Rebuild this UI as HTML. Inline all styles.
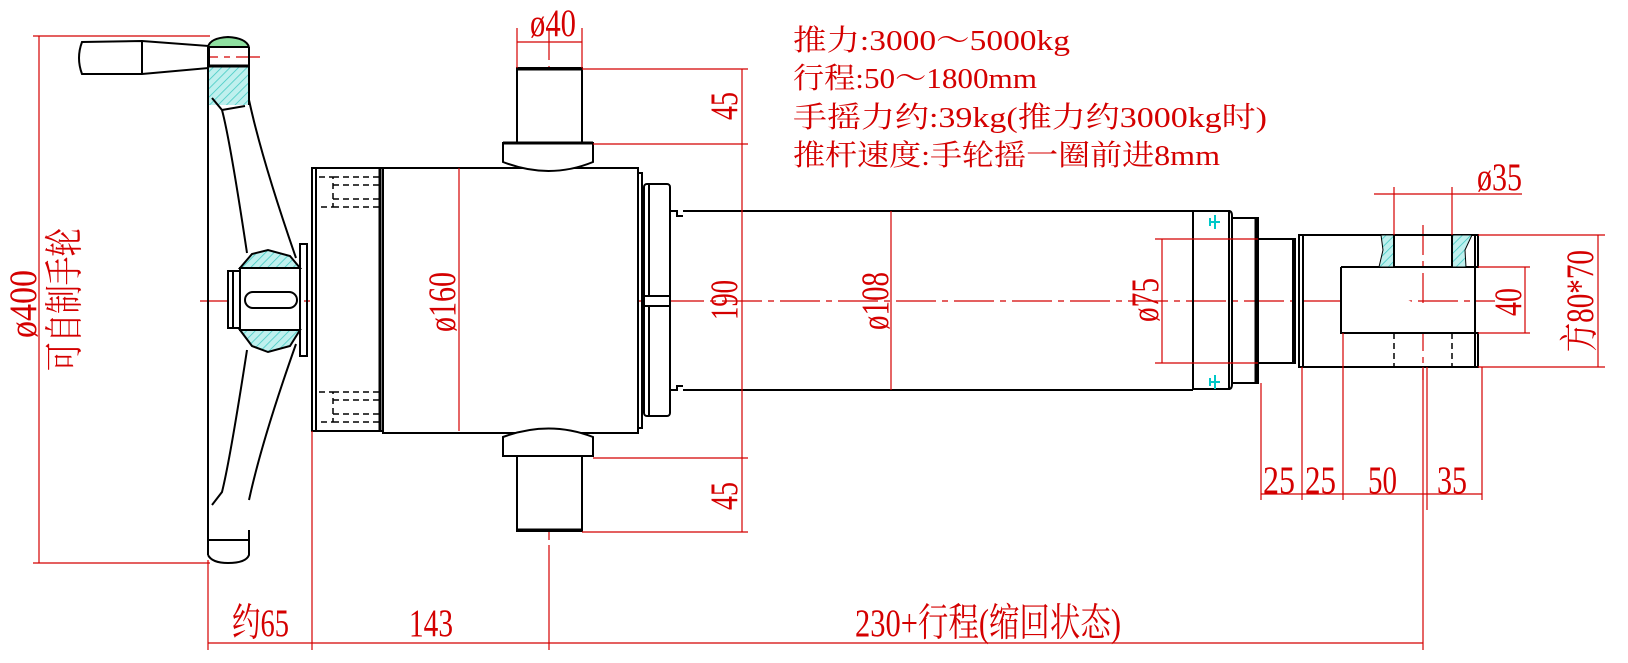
<!DOCTYPE html>
<html><head><meta charset="utf-8"><style>
html,body{margin:0;padding:0;background:#fff;width:1628px;height:663px;overflow:hidden}
svg{display:block}
text{font-family:"Liberation Serif","Noto Serif CJK SC",serif;fill:#d40000}
</style></head><body>
<svg width="1628" height="663" viewBox="0 0 1628 663" xmlns="http://www.w3.org/2000/svg">
<defs>
<pattern id="h" width="6" height="6" patternUnits="userSpaceOnUse" patternTransform="rotate(45)">
<rect width="6" height="6" fill="#bff0ee"/><line x1="0" y1="0" x2="0" y2="6" stroke="#3cc8c0" stroke-width="1.5"/></pattern>
</defs>
<g stroke="#d40000" stroke-width="1.2" fill="none">
<line x1="200" y1="301" x2="1495" y2="301" stroke-dasharray="40,6,6,6"/>
<line x1="140" y1="57" x2="260" y2="57" stroke-dasharray="30,6,6,6"/>
<line x1="549" y1="30" x2="549" y2="545" stroke-dasharray="30,6,6,6"/>
<line x1="1423" y1="225" x2="1423" y2="380" stroke-dasharray="30,6,6,6"/>
</g>
<g stroke="#000" stroke-width="2" fill="none">
<path d="M82,42 L142,41 L209,46 L209,68 L142,74 L82,74 Q76,58 82,42 Z" fill="#fff"/>
<line x1="142" y1="41" x2="142" y2="74"/>
<path d="M208,47 Q210,38 228,37 Q246,38 249,47" fill="#8fe0a0"/>
<rect x="208" y="67" width="41" height="38" fill="url(#h)" stroke="none"/>
<line x1="208" y1="47" x2="208" y2="555"/>
<line x1="249" y1="47" x2="249" y2="105"/>
<line x1="208" y1="47" x2="249" y2="47"/>
<line x1="208" y1="66" x2="249" y2="66" stroke-width="3"/>
<path d="M208,555 Q212,563 228,563 Q246,563 249,555 L249,530"/>
<line x1="208" y1="540" x2="249" y2="540"/>
<path d="M212,98 L222,110 Q230,140 247,253"/>
<path d="M249,100 Q262,160 296,258"/>
<path d="M222,110 L245,106"/>
<path d="M212,505 L222,492 Q230,460 247,350"/>
<path d="M249,500 Q262,440 296,344"/>
<path d="M240,268 L252,254 L268,250 L290,256 L300,268 Z" fill="url(#h)"/>
<path d="M240,330 L252,346 L268,352 L290,346 L300,330 Z" fill="url(#h)"/>
<rect x="240" y="268" width="60" height="62" fill="#fff"/>
<rect x="228" y="271" width="12" height="57" fill="#fff"/>
<line x1="233" y1="271" x2="233" y2="328"/>
<rect x="245" y="292" width="52" height="16" rx="8"/>
<rect x="300" y="244" width="7" height="112"/>
<rect x="312" y="168" width="71" height="263" fill="#fff"/>
<line x1="316" y1="168" x2="316" y2="431"/>
<line x1="380" y1="168" x2="380" y2="431" stroke-width="3"/>
<g stroke-dasharray="6,4" stroke-width="1.5">
<path d="M319,177 L333,177 L333,207 L319,207 M333,185 L380,185 M333,199 L380,199 M333,177 L380,177 M333,207 L380,207"/>
<path d="M319,392 L333,392 L333,422 L319,422 M333,400 L380,400 M333,414 L380,414 M333,392 L380,392 M333,422 L380,422"/>
</g>
<rect x="383" y="168" width="255" height="265" fill="#fff"/>
<rect x="517" y="68" width="65" height="75" fill="#fff"/>
<line x1="517" y1="69" x2="582" y2="69" stroke-width="3"/>
<path d="M503,143 L593,143 L593,162 Q549,180 503,162 Z" fill="#fff"/>
<line x1="503" y1="143" x2="593" y2="143" stroke-width="3"/>
<rect x="517" y="456" width="65" height="75" fill="#fff"/>
<line x1="517" y1="530" x2="582" y2="530" stroke-width="3"/>
<path d="M503,456 L593,456 L593,437 Q549,420 503,437 Z" fill="#fff"/>
<rect x="638" y="173" width="4" height="255"/>
<rect x="644" y="184" width="26" height="232" rx="3" fill="#fff"/>
<line x1="649" y1="184" x2="649" y2="416"/>
<rect x="644" y="296" width="26" height="10" fill="#fff"/>
<path d="M670,211 L677,211 L677,216 L683,216"/>
<path d="M670,390 L677,390 L677,386 L683,386"/>
<line x1="683" y1="211" x2="1193" y2="211"/>
<line x1="683" y1="390" x2="1193" y2="390"/>
<rect x="1193" y="211" width="36" height="178"/>
<path d="M1229,211 Q1232,211 1232,216 L1232,384 Q1232,389 1229,389"/>
<rect x="1232" y="218" width="26" height="165" stroke-width="2"/>
<line x1="1256" y1="218" x2="1256" y2="383" stroke-width="3"/>
<rect x="1258" y="239" width="37" height="124"/>
<line x1="1293" y1="239" x2="1293" y2="363"/>
<rect x="1299" y="235" width="176" height="132"/>
<line x1="1303" y1="235" x2="1303" y2="367"/>
<rect x="1475" y="235" width="3" height="32"/>
<rect x="1475" y="333" width="3" height="34"/>
<path d="M1341,267 L1475,267 M1341,267 L1341,333 L1475,333" fill="#fff"/>
<path d="M1381,235 L1394,235 L1394,267 L1379,267 L1383,250 Z" fill="url(#h)" stroke-width="1"/>
<path d="M1452,235 L1472,235 L1465,250 L1466,267 L1452,267 Z" fill="url(#h)" stroke-width="1"/>
<line x1="1394" y1="235" x2="1394" y2="267"/>
<line x1="1452" y1="235" x2="1452" y2="267"/>
<g stroke-dasharray="6,4" stroke-width="1.5"><line x1="1394" y1="333" x2="1394" y2="367"/><line x1="1452" y1="333" x2="1452" y2="367"/></g>
</g>
<g stroke="#00c8c8" stroke-width="2" fill="none">
<path d="M1210,222 L1220,222 M1215,215 L1215,229 M1210,218 L1210,226"/>
<path d="M1210,382 L1220,382 M1215,375 L1215,389 M1210,378 L1210,386"/>
</g>
<g stroke="#d40000" stroke-width="1.2" fill="none">
<line x1="39" y1="36" x2="39" y2="563"/>
<line x1="33" y1="36" x2="210" y2="36"/>
<line x1="33" y1="563" x2="210" y2="563"/>
<line x1="208" y1="560" x2="208" y2="650"/>
<line x1="312" y1="431" x2="312" y2="650"/>
<line x1="549" y1="545" x2="549" y2="650"/>
<line x1="208" y1="643" x2="1423" y2="643"/>
<line x1="1423" y1="367" x2="1423" y2="650"/>
<line x1="517" y1="28" x2="517" y2="68"/><line x1="582" y1="28" x2="582" y2="68"/>
<line x1="517" y1="42" x2="582" y2="42"/>
<line x1="582" y1="69" x2="748" y2="69"/>
<line x1="593" y1="144" x2="748" y2="144"/>
<line x1="593" y1="458" x2="748" y2="458"/>
<line x1="582" y1="532" x2="748" y2="532"/>
<line x1="742" y1="69" x2="742" y2="532"/>
<line x1="459" y1="168" x2="459" y2="431"/>
<line x1="891" y1="211" x2="891" y2="390"/>
<line x1="1162" y1="239" x2="1162" y2="363"/>
<line x1="1155" y1="239" x2="1258" y2="239"/>
<line x1="1155" y1="363" x2="1258" y2="363"/>
<line x1="1374" y1="194" x2="1522" y2="194"/>
<line x1="1394" y1="187" x2="1394" y2="235"/>
<line x1="1452" y1="187" x2="1452" y2="235"/>
<line x1="1478" y1="267" x2="1530" y2="267"/>
<line x1="1478" y1="333" x2="1530" y2="333"/>
<line x1="1525" y1="267" x2="1525" y2="333"/>
<line x1="1478" y1="235" x2="1605" y2="235"/>
<line x1="1478" y1="367" x2="1605" y2="367"/>
<line x1="1598" y1="235" x2="1598" y2="367"/>
<line x1="1261" y1="383" x2="1261" y2="500"/>
<line x1="1302" y1="367" x2="1302" y2="500"/>
<line x1="1343" y1="333" x2="1343" y2="500"/>
<line x1="1427" y1="367" x2="1427" y2="510"/>
<line x1="1482" y1="367" x2="1482" y2="500"/>
<line x1="1261" y1="494" x2="1482" y2="494"/>
</g>
<g font-size="29">
<text x="793" y="50" textLength="277" lengthAdjust="spacingAndGlyphs">推力:3000～5000kg</text>
<text x="793" y="88" textLength="244" lengthAdjust="spacingAndGlyphs">行程:50～1800mm</text>
<text x="793" y="127" textLength="474" lengthAdjust="spacingAndGlyphs">手摇力约:39kg(推力约3000kg时)</text>
<text x="793" y="165" textLength="427" lengthAdjust="spacingAndGlyphs">推杆速度:手轮摇一圈前进8mm</text>
</g>
<g font-size="39">
<text x="530" y="36" textLength="46" lengthAdjust="spacingAndGlyphs">ø40</text>
<text x="1477" y="190" textLength="45" lengthAdjust="spacingAndGlyphs">ø35</text>
<text x="232" y="636" textLength="57" lengthAdjust="spacingAndGlyphs">约65</text>
<text x="409" y="636" textLength="44" lengthAdjust="spacingAndGlyphs">143</text>
<text x="855" y="636" textLength="266" lengthAdjust="spacingAndGlyphs">230+行程(缩回状态)</text>
<text x="1263" y="493" textLength="32" lengthAdjust="spacingAndGlyphs">25</text>
<text x="1305" y="493" textLength="31" lengthAdjust="spacingAndGlyphs">25</text>
<text x="1368" y="493" textLength="29" lengthAdjust="spacingAndGlyphs">50</text>
<text x="1437" y="493" textLength="30" lengthAdjust="spacingAndGlyphs">35</text>
<text transform="translate(737,120) rotate(-90)" textLength="28" lengthAdjust="spacingAndGlyphs">45</text>
<text transform="translate(737,510) rotate(-90)" textLength="28" lengthAdjust="spacingAndGlyphs">45</text>
<text transform="translate(737,320) rotate(-90)" textLength="40" lengthAdjust="spacingAndGlyphs">190</text>
<text transform="translate(455,332) rotate(-90)" textLength="60" lengthAdjust="spacingAndGlyphs">ø160</text>
<text transform="translate(888,330) rotate(-90)" textLength="58" lengthAdjust="spacingAndGlyphs">ø108</text>
<text transform="translate(1158,322) rotate(-90)" textLength="44" lengthAdjust="spacingAndGlyphs">ø75</text>
<text transform="translate(1521,316) rotate(-90)" textLength="28" lengthAdjust="spacingAndGlyphs">40</text>
<text transform="translate(1593,352) rotate(-90)" textLength="102" lengthAdjust="spacingAndGlyphs">方80*70</text>
<text transform="translate(36,338) rotate(-90)" textLength="68" lengthAdjust="spacingAndGlyphs">ø400</text>
<text transform="translate(78,371) rotate(-90)" textLength="143" lengthAdjust="spacingAndGlyphs">可自制手轮</text>
</g>
</svg>
</body></html>
